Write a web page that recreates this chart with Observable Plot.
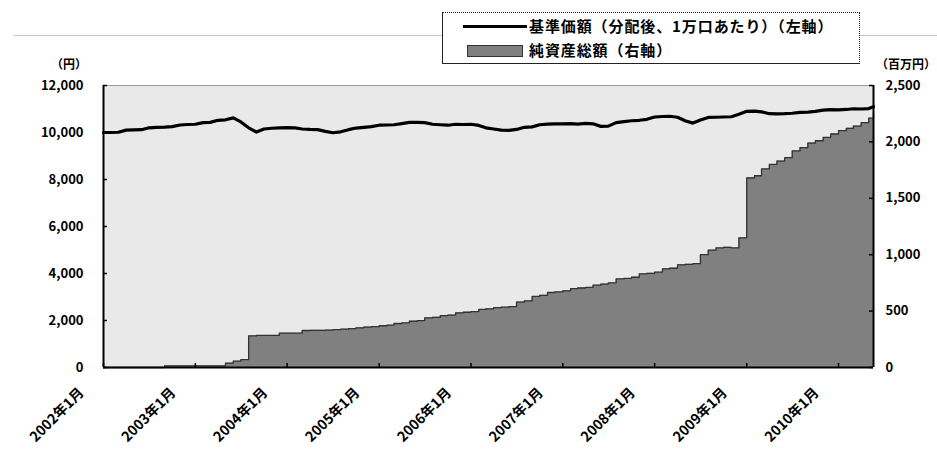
<!DOCTYPE html>
<html><head><meta charset="utf-8">
<script src="https://cdn.jsdelivr.net/npm/d3@7"></script>
<script src="https://cdn.jsdelivr.net/npm/@observablehq/plot@0.6"></script>
<style>
body{margin:0;background:#fff;font-family:"Noto Sans CJK JP","Noto Sans",sans-serif;color:#000;}
#wrap{position:relative;width:937px;height:450px;overflow:hidden;}
#head{position:relative;width:937px;height:75px;}
.rule{position:absolute;left:14px;right:0;top:35px;height:0;border-top:1px solid #c8c8c8;}
.legend{position:absolute;left:442px;top:12px;width:416px;height:50px;background:#fff;border:1px solid #222;border-top-style:dotted;border-right-style:dotted;}
.row{position:absolute;left:0;height:20px;font-size:15px;font-weight:bold;line-height:20px;white-space:nowrap;letter-spacing:0.9px;}
.row .sym{position:absolute;}
.row span.t{position:absolute;left:86px;}
.u{position:absolute;top:56px;font-size:12px;font-weight:bold;line-height:16px;white-space:nowrap;}
</style></head><body>
<div id="wrap">
<div id="head">
  <div class="rule"></div>
  <div class="legend">
    <div class="row" style="top:3px;width:410px"><div class="sym" style="left:20px;top:9px;width:64px;height:0;border-top:3px solid #000"></div><span class="t" id="lg1"></span></div>
    <div class="row" style="top:27px;width:410px"><div class="sym" style="left:24px;top:5px;width:54px;height:10px;background:#808080;border:1px solid #333"></div><span class="t" id="lg2"></span></div>
  </div>
  <div class="u" id="uL" style="left:51px"></div>
  <div class="u" id="uR" style="left:876px"></div>
</div>
<div id="chart"></div>
</div>
<script>
// ---- data ----
const seriesNames = ["基準価額（分配後、1万口あたり）（左軸）", "純資産総額（右軸）"];
const unitLeft = "（円）";
const unitRight = "（百万円）";
const startMonth = "2002-01-01";
const endDate = "2010-05-20";
// monthly 基準価額 (円), 2002-01 .. 2010-05
const navValues = [
  10000,10000,10010,10100,10110,10120,10200,10220,10230,10250,10320,10340,
  10350,10420,10430,10520,10540,10620,10450,10200,10020,10150,10180,10200,
  10210,10200,10150,10130,10120,10050,9990,10030,10120,10190,10220,10250,
  10310,10320,10330,10380,10430,10430,10420,10350,10330,10310,10350,10340,
  10350,10300,10200,10150,10100,10090,10130,10220,10240,10330,10360,10370,
  10370,10380,10360,10390,10370,10260,10270,10420,10460,10500,10520,10560,
  10660,10680,10690,10650,10500,10400,10530,10640,10650,10660,10670,10780,
  10900,10910,10880,10800,10790,10800,10820,10860,10870,10900,10950,10970,
  10960,10980,11010,11000,11020
];
const navEnd = 11100;
// monthly 純資産総額 (百万円), 2002-01 .. 2010-05
const assetValues = [
  0,0,0,0,0,0,0,0,15,15,15,15,
  15,15,15,15,38,56,70,280,284,284,284,304,
  304,304,328,330,330,332,335,340,345,352,358,362,
  370,375,390,395,410,415,440,445,460,465,485,490,
  495,515,520,530,535,540,580,590,630,640,665,670,
  680,700,705,710,730,740,750,785,790,800,830,835,
  845,875,880,910,915,920,1000,1040,1060,1065,1060,1150,
  1680,1700,1760,1800,1830,1860,1920,1950,1990,2010,2040,2070,
  2100,2120,2140,2170,2210
];
const assetEnd = 2260;
const leftTicks = [0,2000,4000,6000,8000,10000,12000];
const rightTicks = [0,500,1000,1500,2000,2500];
const yearTicks = ["2002-01-01","2003-01-01","2004-01-01","2005-01-01","2006-01-01","2007-01-01","2008-01-01","2009-01-01","2010-01-01"];
const yearLabels = ["2002年1月","2003年1月","2004年1月","2005年1月","2006年1月","2007年1月","2008年1月","2009年1月","2010年1月"];

document.getElementById("lg1").textContent = seriesNames[0];
document.getElementById("lg2").textContent = seriesNames[1];
document.getElementById("uL").textContent = unitLeft;
document.getElementById("uR").textContent = unitRight;

const k = 12000/2500; // right axis to left axis
const t0 = new Date(startMonth), t1 = new Date(endDate);
const dates = navValues.map((_, i) => d3.utcMonth.offset(t0, i));
const data = dates.map((d, i) => ({date: d, nav: navValues[i], asset: assetValues[i]}));
data.push({date: t1, nav: navEnd, asset: assetEnd});
const yearDates = yearTicks.map(s => new Date(s));

const W = 937, H = 375, ML = 103, MR = 64, MT = 10, MB = 83;
const PW = W - ML - MR, PH = H - MT - MB;
const fmt = d3.format(",");

const chart = Plot.plot({
  width: W, height: H, marginLeft: ML, marginRight: MR, marginTop: MT, marginBottom: MB,
  style: {fontFamily: '"Noto Sans CJK JP","Noto Sans",sans-serif', fontSize: "13px", fontWeight: "bold", color: "#000", background: "#fff"},
  x: {type: "utc", domain: [t0, t1]},
  y: {domain: [0, 12000]},
  marks: [
    Plot.frame({fill: "#e9e9e9", stroke: null}),
    Plot.areaY(data, {x: "date", y: d => d.asset * k, curve: "step-after", fill: "#808080"}),
    Plot.lineY(data, {x: "date", y: d => d.asset * k, curve: "step-after", stroke: "#333", strokeWidth: 1.3}),
    Plot.lineY(data, {x: "date", y: "nav", stroke: "#000", strokeWidth: 3.2}),
    Plot.ruleY([12000], {stroke: "#9a9a9a", strokeWidth: 1}),
    Plot.ruleY([0], {stroke: "#000", strokeWidth: 2}),
    Plot.ruleX([t0, t1], {stroke: "#000", strokeWidth: 2}),
    Plot.tickX(yearDates, {x: d => d, insetTop: PH - 4, stroke: "#000", strokeWidth: 1.5}),
    Plot.tickY(leftTicks, {y: d => d, insetRight: PW - 4, stroke: "#000", strokeWidth: 1.5}),
    Plot.tickY(rightTicks, {y: d => d * k, insetLeft: PW - 4, stroke: "#000", strokeWidth: 1.5}),
    Plot.axisY(leftTicks, {anchor: "left", tickSize: 0, tickPadding: 20, tickFormat: fmt, label: null}),
    Plot.axisY(rightTicks.map(v => v * k), {anchor: "right", tickSize: 0, tickPadding: 12, tickFormat: d => fmt(Math.round(d / k)), label: null}),
    Plot.axisX(yearDates, {anchor: "bottom", tickSize: 0, tickRotate: -45, textAnchor: "end", tickPadding: 23, dx: -22, tickFormat: d => yearLabels[d.getUTCFullYear() - 2002], label: null, fontSize: 14})
  ]
});
document.getElementById("chart").appendChild(chart);
</script>
</body></html>
